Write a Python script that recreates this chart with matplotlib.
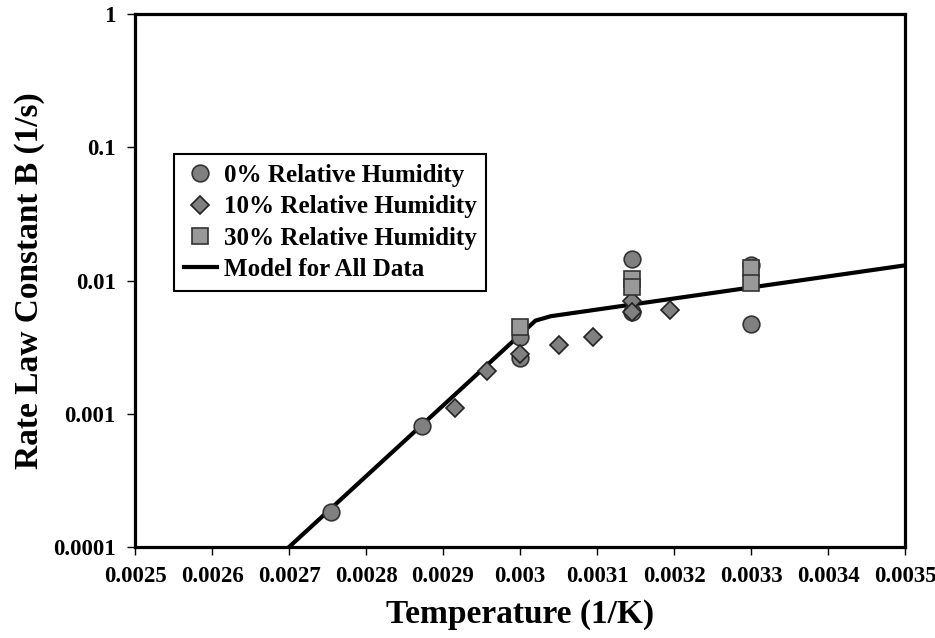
import matplotlib
matplotlib.use('Agg')
import matplotlib.pyplot as plt
from matplotlib.ticker import FixedLocator

plt.rcParams['font.family'] = ['Liberation Serif', 'DejaVu Serif']
plt.rcParams['font.weight'] = 'bold'

# 0% relative humidity
rh0_x = [0.002755, 0.002873, 0.003, 0.003, 0.003145, 0.003145, 0.0033, 0.0033]
rh0_y = [0.000183, 0.00081, 0.0038, 0.0026, 0.0145, 0.0058, 0.013, 0.0047]

# 10% relative humidity
rh10_x = [0.002915, 0.002957, 0.003, 0.00305, 0.003095, 0.003145, 0.003145, 0.003195]
rh10_y = [0.0011, 0.0021, 0.0028, 0.0033, 0.0038, 0.0070, 0.0058, 0.0060]

# 30% relative humidity
rh30_x = [0.003, 0.003145, 0.003145, 0.0033, 0.0033]
rh30_y = [0.0045, 0.0102, 0.0089, 0.0124, 0.0096]

# model line
model_x = [0.0027, 0.00302, 0.00304, 0.0035]
model_y = [0.0001, 0.0050, 0.0054, 0.013]

x_ticks = [0.0025, 0.0026, 0.0027, 0.0028, 0.0029, 0.003, 0.0031, 0.0032, 0.0033, 0.0034, 0.0035]
x_labels = ['0.0025', '0.0026', '0.0027', '0.0028', '0.0029', '0.003', '0.0031', '0.0032', '0.0033', '0.0034', '0.0035']
y_ticks = [0.0001, 0.001, 0.01, 0.1, 1]
y_labels = ['0.0001', '0.001', '0.01', '0.1', '1']

fig = plt.figure(figsize=(9.35, 6.38), dpi=100)
ax = fig.add_axes([0.1444, 0.1426, 0.8236, 0.8354])

ax.plot(model_x, model_y, color='black', lw=3, zorder=2, label='Model for All Data')
ax.plot(rh0_x, rh0_y, 'o', ms=12, mfc='#808080', mec='#333333', mew=1.2, zorder=3,
        label='0% Relative Humidity')
ax.plot(rh10_x, rh10_y, 'D', ms=9.5, mfc='#808080', mec='#222222', mew=1.2, zorder=4,
        label='10% Relative Humidity')
ax.plot(rh30_x, rh30_y, 's', ms=11.5, mfc='#999999', mec='#333333', mew=1.2, zorder=5,
        label='30% Relative Humidity')

ax.set_yscale('log')
ax.set_xlim(0.0025, 0.0035)
ax.set_ylim(0.0001, 1)
ax.xaxis.set_major_locator(FixedLocator(x_ticks))
ax.set_xticklabels(x_labels)
ax.yaxis.set_major_locator(FixedLocator(y_ticks))
ax.yaxis.set_minor_locator(FixedLocator([]))
ax.set_yticklabels(y_labels)

ax.tick_params(axis='both', direction='out', length=6, width=1, labelsize=16.5, pad=8)
for lab in ax.get_xticklabels() + ax.get_yticklabels():
    lab.set_fontweight('bold')
for sp in ax.spines.values():
    sp.set_linewidth(2.3)

ax.set_xlabel('Temperature (1/K)', fontsize=24, fontweight='bold', labelpad=8)
ax.set_ylabel('Rate Law Constant B (1/s)', fontsize=24, fontweight='bold', labelpad=6)

handles, labels = ax.get_legend_handles_labels()
order = [1, 2, 3, 0]
leg = ax.legend([handles[i] for i in order], [labels[i] for i in order],
                loc='upper left', bbox_to_anchor=(0.05, 0.737), fancybox=False,
                edgecolor='black', framealpha=1, prop={'weight': 'bold', 'size': 18},
                handlelength=1.35, borderpad=0.4, labelspacing=0.33, handletextpad=0.25,
                borderaxespad=0)
leg.get_frame().set_linewidth(1.5)

fig.savefig('out.png', dpi=100)
